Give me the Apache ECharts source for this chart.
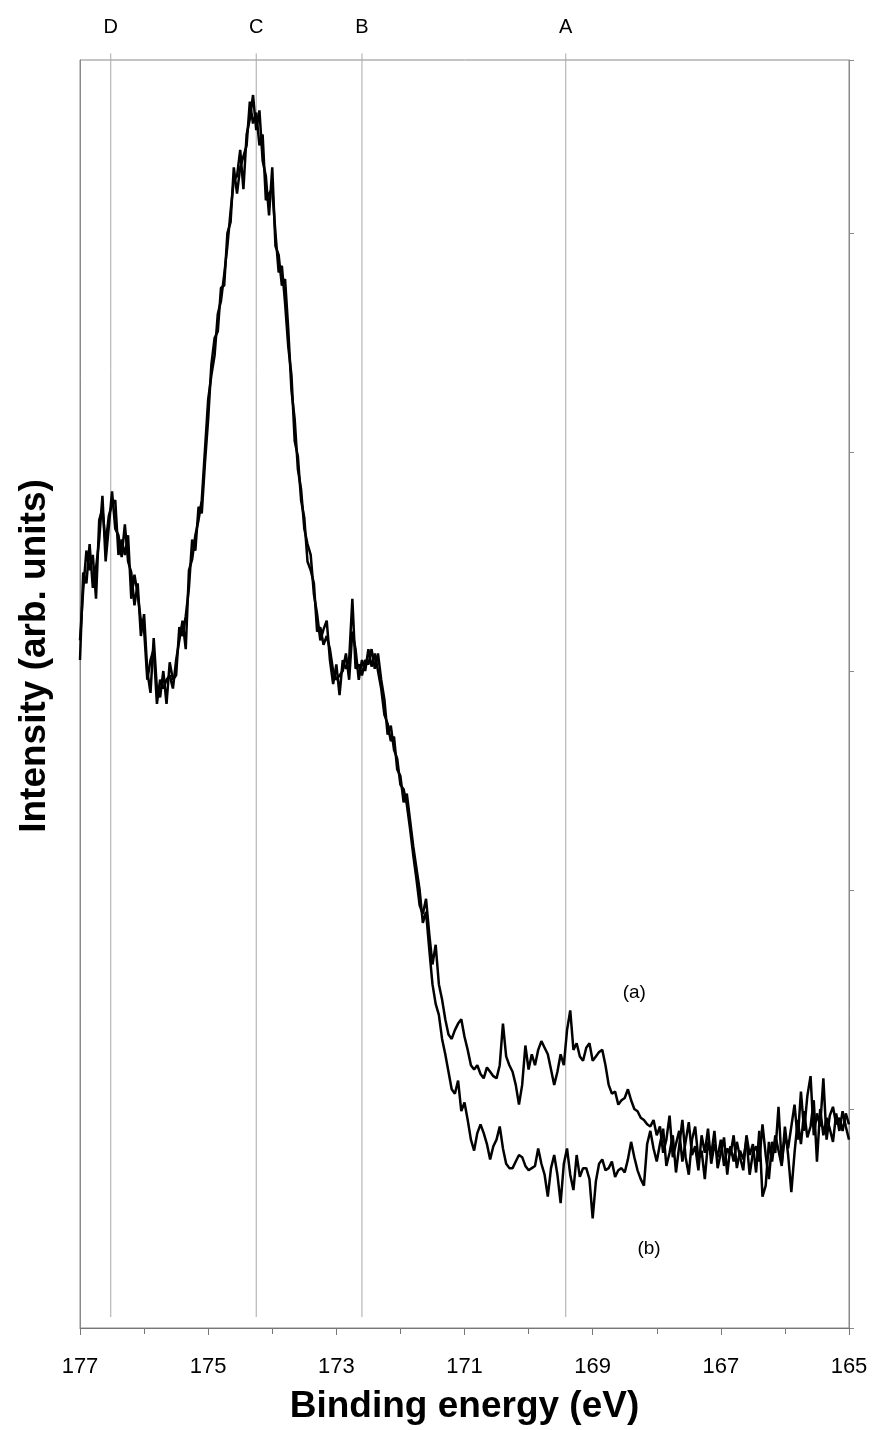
<!DOCTYPE html>
<html>
<head>
<meta charset="utf-8">
<script src="https://cdn.jsdelivr.net/npm/echarts@6/dist/echarts.min.js"></script>
<style>
  html, body { margin: 0; padding: 0; background: #fff; }
  #main { width: 875px; height: 1430px; }
</style>
</head>
<body>
<div id="main"></div>
<script>
// energy grid, 177 -> 165 eV in 0.05 eV steps
var startE = 177, stepE = 0.05;

// curve (a), intensity in arb. units
var curveA = [
  // 177.00 - 171.60 (shared part)
  314,337,355,346,353,333,369,374,358,371,
  376,378,353,360,353,362,333,344,335,323,
  319,296,305,310,285,296,292,296,298,292,
  305,314,323,310,346,351,362,369,378,401,
  424,435,444,463,469,481,494,510,524,526,
  538,520,545,552,563,547,556,533,526,508,
  530,494,490,476,479,456,428,415,392,383,
  365,358,353,335,326,314,319,323,305,294,
  303,289,305,301,305,333,301,303,298,305,
  303,310,301,308,296,287,271,275,264,260,
  248,246,239,228,216,205,193,189,196,
  // 171.55 - 168.10
  180,166,175,157,150,141,134,132,136,139,
  141,133,127,120,118,120,116,114,119,117,
  115,114,120,139,124,120,117,111,102,111,
  129,118,125,120,127,131,128,125,118,111,
  117,125,120,136,145,127,130,124,122,128,
  130,122,124,126,127,120,111,107,108,102,
  104,105,109,104,100,99,96,95,93,92,
  // 168.05 - 165.00
  95,88,92,80,86,97,78,84,90,76,
  85,94,79,83,72,88,80,91,75,84,
  78,86,74,82,79,88,73,81,77,86,
  70,80,83,76,93,79,68,85,80,101,
  75,88,82,92,102,86,108,90,106,115,
  88,98,92,114,86,97,101,93,96,90,
  98,93
];

// curve (b)
var curveB = [
  305,345,340,358,338,347,360,380,350,366,
  382,365,362,352,367,350,345,330,340,316,
  326,300,290,315,292,288,300,285,304,296,
  298,320,316,325,338,360,355,375,372,395,
  415,440,452,455,475,476,500,505,530,518,
  530,535,540,560,550,555,540,545,515,518,
  520,500,482,485,468,448,435,405,398,378,
  370,350,346,340,318,320,312,316,310,300,
  296,298,300,308,296,318,310,296,305,300,
  310,302,308,300,292,280,276,268,270,255,
  252,240,244,232,220,210,200,185,190,
  173,157,148,143,132,125,117,109,107,113,
  99,103,95,86,81,89,93,89,84,77,
  83,86,92,82,75,73,73,76,79,78,
  74,72,73,74,82,75,70,60,73,79,
  70,57,75,82,70,63,79,69,73,73,
  68,50,67,75,77,72,73,76,69,72,
  73,71,77,85,78,72,68,65,84,90,
  82,76,84,91,74,80,88,71,83,95,
  78,70,86,92,77,81,68,85,79,90,
  73,80,87,70,83,76,85,78,72,88,
  79,84,71,90,60,65,85,76,88,81,
  74,92,79,62,80,95,84,99,87,92,
  104,76,100,88,96,91,85,98,90,99,
  92,86
];

// reference lines
var peakNames = ['D', 'C', 'B', 'A'];
var peakEnergy = [176.52, 174.25, 172.6, 169.42];
var lineTop = 582, lineBottom = 5;

function toPairs(vals) {
  var out = [];
  for (var i = 0; i < vals.length; i++) {
    out.push([+(startE - i * stepE).toFixed(2), vals[i]]);
  }
  return out;
}

var font = "'Liberation Sans', Arial, sans-serif";
var myChart = echarts.init(document.getElementById('main'));

var series = [];
for (var k = 0; k < peakNames.length; k++) {
  series.push({
    type: 'line',
    silent: true,
    clip: false,
    symbol: 'none',
    lineStyle: { color: '#a8a8a8', width: 1 },
    data: [[peakEnergy[k], lineTop], [peakEnergy[k], lineBottom]],
    z: 1
  });
}
series.push({
  name: '(a)',
  type: 'line',
  symbol: 'none',
  lineStyle: { color: '#000', width: 2.5 },
  data: toPairs(curveA),
  markPoint: {
    symbolSize: 0,
    label: { show: true, formatter: '(a)', fontSize: 19, color: '#000', fontFamily: font },
    data: [{ coord: [168.35, 153] }]
  },
  z: 3
});
series.push({
  name: '(b)',
  type: 'line',
  symbol: 'none',
  lineStyle: { color: '#000', width: 2.5 },
  data: toPairs(curveB),
  markPoint: {
    symbolSize: 0,
    label: { show: true, formatter: '(b)', fontSize: 19, color: '#000', fontFamily: font },
    data: [{ coord: [168.12, 36] }]
  },
  z: 3
});

option = {
  backgroundColor: '#fff',
  animation: false,
  grid: {
    left: 80, right: 26, top: 60, bottom: 101,
    show: true, borderColor: '#8a8a8a', borderWidth: 1
  },
  xAxis: [
    {
      type: 'value',
      min: 165, max: 177, interval: 2,
      inverse: true,
      name: 'Binding energy (eV)',
      nameLocation: 'middle',
      nameGap: 60,
      nameTextStyle: { fontSize: 37, fontWeight: 'bold', color: '#000', fontFamily: font },
      axisLine: { lineStyle: { color: '#777' } },
      axisTick: { length: 7, lineStyle: { color: '#777' } },
      minorTick: { show: true, splitNumber: 2, length: 6, lineStyle: { color: '#777' } },
      axisLabel: { fontSize: 22, color: '#000', margin: 28, fontFamily: font },
      splitLine: { show: false }
    },
    {
      // letters over the reference lines
      type: 'value',
      position: 'top',
      min: 165, max: 177,
      inverse: true,
      axisLine: { show: false },
      axisTick: { show: false },
      splitLine: { show: false },
      axisLabel: {
        customValues: peakEnergy,
        fontSize: 20, color: '#000', margin: 23, fontFamily: font,
        formatter: function (v) {
          for (var i = 0; i < peakEnergy.length; i++) {
            if (Math.abs(peakEnergy[i] - v) < 1e-6) return peakNames[i];
          }
          return '';
        }
      }
    }
  ],
  yAxis: [
    {
      type: 'value', min: 0, max: 579, interval: 100, position: 'left',
      axisLine: { show: true, lineStyle: { color: '#8a8a8a' } },
      axisTick: { show: false }, axisLabel: { show: false }, splitLine: { show: false }
    },
    {
      type: 'value', min: 0, max: 579, interval: 100, position: 'right',
      axisLine: { show: true, lineStyle: { color: '#8a8a8a' } },
      axisTick: { show: true, length: 5, lineStyle: { color: '#8a8a8a' } },
      axisLabel: { show: false }, splitLine: { show: false }
    }
  ],
  graphic: [{
    type: 'text',
    x: 35, y: 656,
    rotation: Math.PI / 2,
    style: {
      text: 'Intensity (arb. units)',
      font: 'bold 37px ' + font,
      fill: '#000',
      align: 'center',
      verticalAlign: 'middle'
    }
  }],
  series: series
};
myChart.setOption(option);
</script>
</body>
</html>
